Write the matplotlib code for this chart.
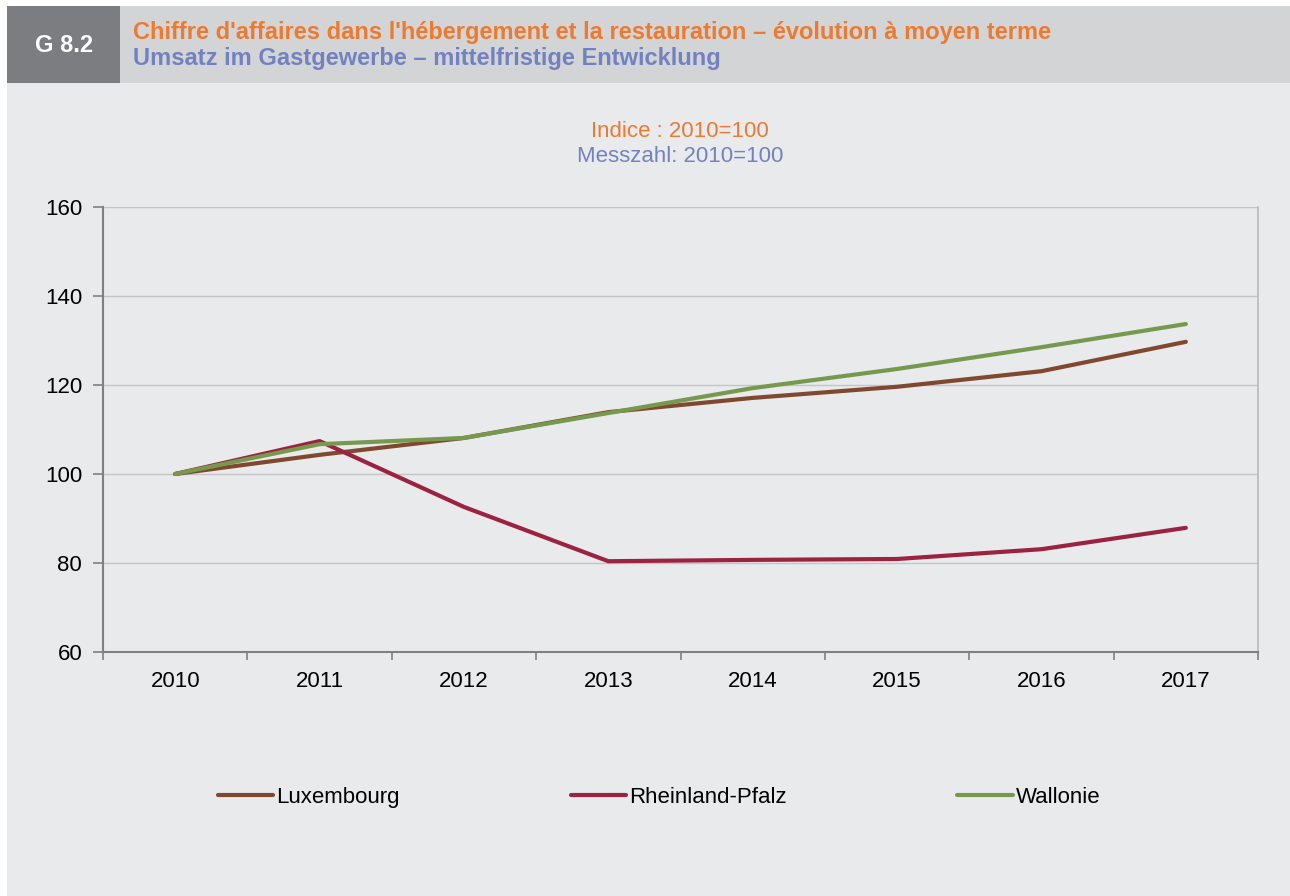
import matplotlib
matplotlib.use("Agg")
import matplotlib.pyplot as plt
from matplotlib.patches import Rectangle

plt.rcParams['font.family'] = ['Liberation Sans', 'DejaVu Sans']

years = ['2010', '2011', '2012', '2013', '2014', '2015', '2016', '2017']
luxembourg = [100, 104.3, 108.1, 113.9, 117.1, 119.6, 123.1, 129.7]
rheinland_pfalz = [100, 107.4, 92.6, 80.4, 80.7, 80.9, 83.1, 87.9]
wallonie = [100, 106.7, 108.1, 113.7, 119.3, 123.6, 128.5, 133.7]
series_names = ['Luxembourg', 'Rheinland-Pfalz', 'Wallonie']
y_ticks = [60, 80, 100, 120, 140, 160]

W, H = 1290, 896
fig = plt.figure(figsize=(W / 100, H / 100), dpi=100)
fig.patch.set_facecolor('white')

def fx(px):
    return px / W

def fy(py):
    return 1 - py / H

# background of chart area
fig.add_artist(Rectangle((fx(7), 0), 1 - fx(7), fy(83), transform=fig.transFigure,
                         facecolor='#e9eaec', edgecolor='none', zorder=0))
# header band
fig.add_artist(Rectangle((fx(7), fy(83)), 1 - fx(7), fy(6) - fy(83), transform=fig.transFigure,
                         facecolor='#d3d4d6', edgecolor='none', zorder=0))
fig.add_artist(Rectangle((fx(7), fy(83)), fx(120) - fx(7), fy(6) - fy(83), transform=fig.transFigure,
                         facecolor='#7c7d80', edgecolor='none', zorder=0))

fig.text(fx(64), fy(46), 'G 8.2', color='white', fontsize=17, fontweight='bold',
         ha='center', va='center')
fig.text(fx(133), fy(33), "Chiffre d'affaires dans l'hébergement et la restauration – évolution à moyen terme",
         color='#ec7a31', fontsize=17, fontweight='bold', ha='left', va='center')
fig.text(fx(133), fy(59), "Umsatz im Gastgewerbe – mittelfristige Entwicklung",
         color='#7282c0', fontsize=17, fontweight='bold', ha='left', va='center')

fig.text(fx(680), fy(131), 'Indice : 2010=100', color='#ec7a31', fontsize=16, ha='center', va='center')
fig.text(fx(680), fy(157), 'Messzahl: 2010=100', color='#7282c0', fontsize=16, ha='center', va='center')

ax = fig.add_axes([fx(103), fy(652), fx(1258) - fx(103), fy(207) - fy(652)])
ax.set_facecolor('#e9eaec')

x = list(range(len(years)))
colors = ['#80492f', '#9b2340', '#77994e']
for vals, name, c in zip([luxembourg, rheinland_pfalz, wallonie], series_names, colors):
    ax.plot(x, vals, color=c, lw=3, label=name, solid_capstyle='round', solid_joinstyle='round')

ax.set_xlim(-0.5, len(years) - 0.5)
ax.set_ylim(60, 160)
ax.set_yticks(y_ticks)
ax.set_yticklabels([str(v) for v in y_ticks])
ax.set_xticks(x)
ax.set_xticklabels(years)
ax.set_xticks([i - 0.5 for i in range(len(years) + 1)], minor=True)
ax.tick_params(axis='x', which='major', length=0, pad=14, labelsize=16)
ax.tick_params(axis='x', which='minor', length=6, width=1.2, color='#808080', direction='out')
ax.tick_params(axis='y', which='major', length=7, width=1.2, color='#808080', pad=8, labelsize=16)
ax.grid(axis='y', color='#c3c4c6', lw=1)
ax.set_axisbelow(True)
for s in ['left', 'bottom']:
    ax.spines[s].set_color('#808080')
    ax.spines[s].set_linewidth(1.5)
ax.spines['top'].set_visible(False)
ax.spines['right'].set_color('#b8b9bb')
ax.spines['right'].set_linewidth(1.2)

handles, labels = ax.get_legend_handles_labels()
fig.legend(handles, labels, loc='center', bbox_to_anchor=(fx(659), fy(797)), ncol=3,
           frameon=False, fontsize=16, handlelength=2.5, handletextpad=0.12,
           columnspacing=7.7)

fig.savefig('out.png', dpi=100, facecolor=fig.get_facecolor())
